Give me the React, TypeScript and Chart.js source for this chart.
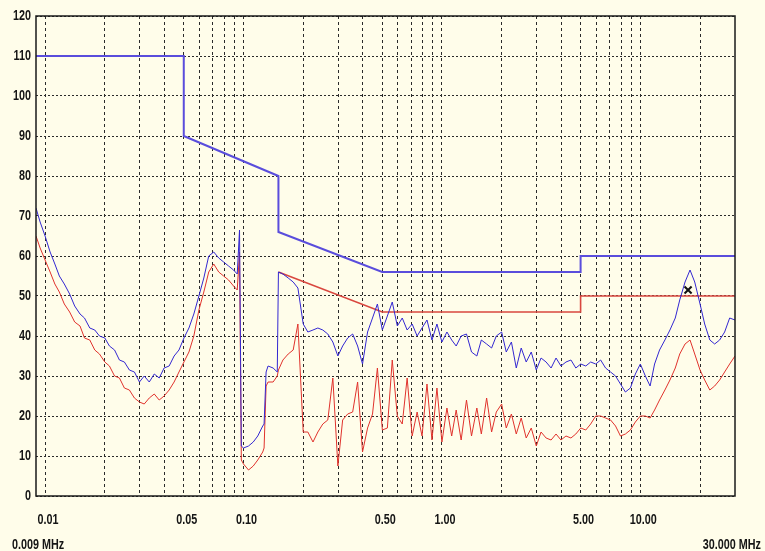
import React, { useEffect, useRef } from "react";
import { Chart, registerables } from "chart.js";

Chart.register(...registerables);

// Frequency points of the measured traces (MHz)
const FREQ_MHZ = [
  0.009, 0.00944,
  0.0100, 0.0106, 0.0112, 0.0118, 0.0125, 0.0133, 0.0141, 0.0150, 0.0158, 0.0168,
  0.0178, 0.0188, 0.0200, 0.0211, 0.0224, 0.0237, 0.0251, 0.0266, 0.0282, 0.0299,
  0.0316, 0.0335, 0.0355, 0.0376, 0.0398, 0.0422, 0.0447, 0.0473, 0.0501, 0.0531,
  0.0562, 0.0596, 0.0631, 0.0668, 0.0708, 0.0750, 0.0794, 0.0841, 0.0891, 0.0930, 0.0955, 0.0975,
  0.100, 0.106, 0.112, 0.118, 0.125, 0.127, 0.130, 0.133, 0.141, 0.148, 0.150, 0.158, 0.168,
  0.178, 0.188, 0.200, 0.211, 0.224, 0.237, 0.251, 0.266, 0.282, 0.299,
  0.316, 0.335, 0.355, 0.376, 0.398, 0.422, 0.447, 0.473, 0.501, 0.531,
  0.562, 0.596, 0.631, 0.668, 0.708, 0.750, 0.794, 0.841, 0.891, 0.944,
  1.00, 1.06, 1.12, 1.18, 1.25, 1.33, 1.41, 1.50, 1.58, 1.68,
  1.78, 1.88, 2.00, 2.11, 2.24, 2.37, 2.51, 2.66, 2.82, 2.99,
  3.16, 3.35, 3.55, 3.76, 3.98, 4.22, 4.47, 4.73, 5.01, 5.31,
  5.62, 5.96, 6.31, 6.68, 7.08, 7.50, 7.94, 8.41, 8.91, 9.44,
  10.0, 10.6, 11.2, 11.8, 12.5, 13.3, 14.1, 15.0, 15.8, 16.8,
  17.8, 18.8, 20.0, 21.1, 22.4, 23.7, 25.1, 26.6, 28.2, 30.0,
];

// Blue (peak) trace, dBµV
const TRACE_BLUE = [
  72, 68.5,
  65, 61, 58, 55, 53, 50.5, 47.5, 45.5, 44.5, 42,
  41.5, 40, 39.5, 37.5, 36.5, 34, 33.5, 31.5, 31, 28.5,
  30, 28.5, 30.5, 29.5, 32, 32.5, 35, 36.5, 39.5, 42,
  45.5, 50, 54.5, 60, 61, 59.5, 58.5, 57.5, 56.5, 55.5, 66.5, 12.5,
  12, 12.5, 13.5, 15, 17.5, 18, 31, 32.5, 32, 31, 56, 55.5, 54.5,
  53.5, 52, 43, 41, 41.5, 42, 41.5, 40.5, 38.5, 35,
  37.5, 39.5, 40.5, 37.5, 33, 41, 44.5, 48, 41.5, 45,
  48.5, 42.5, 44.5, 41.5, 43, 40, 42, 44, 39, 43,
  38.5, 41, 39, 37.5, 40, 40.5, 36, 35, 39, 38,
  37, 40, 41, 36, 38.5, 32, 37, 33.5, 36, 31.5,
  34.5, 33.5, 32, 34.5, 32.5, 33.5, 34, 32, 33, 32.5,
  33.5, 33, 34, 32, 31, 30, 28, 26, 27, 30.5,
  33, 30, 27.5, 33, 36.5, 39, 41.5, 44.5, 49, 53.5,
  56.5, 53.5, 48, 43, 39, 38, 39, 41, 44.5, 44,
];

// Red (average) trace, dBµV
const TRACE_RED = [
  65, 62,
  59, 56, 53, 51, 48, 46, 43.5, 42.5, 39.5, 39,
  36.5, 35.5, 33.5, 32.5, 30, 29.5, 27, 26.5, 24.5, 23.5,
  23, 24.5, 25.5, 24, 25, 26.5, 28.5, 31, 33.5, 36,
  40, 46.5, 51, 56, 58, 56, 55, 54, 52.5, 51.5, 61, 9,
  8, 6.5, 7.5, 9, 11, 12, 27.5, 28.5, 28.5, 30, 31.5, 34, 35.5,
  36.5, 43, 16, 16, 13.5, 16, 18, 19, 29.5, 7.5,
  19, 20.5, 21, 28.5, 11, 17, 20.5, 32, 16.5, 17,
  34, 20, 18, 29.5, 15, 21, 15, 28, 14, 27,
  13.5, 22, 15, 21.5, 14, 24, 15, 22, 15.5, 24.5,
  16, 21, 23, 17, 20.5, 15.5, 19.5, 14.5, 17, 12.5,
  16, 14.5, 14, 15.5, 14, 15, 14.5, 15.5, 17, 16.5,
  18, 20, 20, 19.5, 19, 17.5, 15, 15.5, 16.5, 18.5,
  20, 20, 19.5, 21.5, 24, 26.5, 29, 32, 35.5, 38,
  39, 35.5, 31.5, 29, 26.5, 27.5, 29, 31, 33, 35,
];

// Limit lines
const LIMIT_BLUE_F = [0.009, 0.05, 0.05, 0.15, 0.15, 0.5, 5, 5, 30];
const LIMIT_BLUE_DB = [110, 110, 90, 80, 66, 56, 56, 60, 60];
const LIMIT_RED_F = [0.15, 0.5, 5, 5, 30];
const LIMIT_RED_DB = [56, 46, 46, 50, 50];

// Marker
const MARKER_F = [17.4];
const MARKER_DB = [51.5];

// Axes
const X_MIN = 0.009;
const X_MAX = 30;
const X_GRID = [
  0.01, 0.02, 0.03, 0.04, 0.05, 0.06, 0.07, 0.08, 0.09,
  0.1, 0.2, 0.3, 0.4, 0.5, 0.6, 0.7, 0.8, 0.9,
  1, 2, 3, 4, 5, 6, 7, 8, 9,
  10, 20,
];
const X_LABEL_VALUES = [0.01, 0.05, 0.1, 0.5, 1, 5, 10];
const X_LABEL_TEXT = ["0.01", "0.05", "0.10", "0.50", "1.00", "5.00", "10.00"];
const X_START_TEXT = "0.009 MHz";
const X_END_TEXT = "30.000 MHz";
const Y_MIN = 0;
const Y_MAX = 120;
const Y_STEP = 10;
const Y_LABELS = ["0", "10", "20", "30", "40", "50", "60", "70", "80", "90", "100", "110", "120"];

const FONT = "bold 15px 'Liberation Sans', Arial, sans-serif";
const NARROW = 0.72;
const BG = "#fffdea";

const pts = (xs: number[], ys: number[]) => xs.map((x, i) => ({ x, y: ys[i] }));

function narrowText(ctx: CanvasRenderingContext2D, text: string, x: number, y: number, align: CanvasTextAlign) {
  ctx.save();
  ctx.translate(x, y);
  ctx.scale(NARROW, 1);
  ctx.textAlign = align;
  ctx.fillText(text, 0, 0);
  ctx.restore();
}

const framePlugin = {
  id: "frame",
  afterDraw(chart: any) {
    const { ctx, chartArea } = chart;
    const xs = chart.scales.x;
    const ys = chart.scales.y;
    ctx.save();
    ctx.strokeStyle = "#1a1a1a";
    ctx.lineWidth = 1.5;
    ctx.strokeRect(chartArea.left, chartArea.top, chartArea.right - chartArea.left, chartArea.bottom - chartArea.top);
    ctx.fillStyle = "#151515";
    ctx.font = FONT;
    ctx.textBaseline = "middle";
    X_LABEL_VALUES.forEach((v, i) => {
      narrowText(ctx, X_LABEL_TEXT[i], xs.getPixelForValue(v) + 3, 520, "center");
    });
    Y_LABELS.forEach((t, i) => {
      narrowText(ctx, t, 31, ys.getPixelForValue(Y_MIN + i * Y_STEP), "right");
    });
    ctx.textBaseline = "alphabetic";
    narrowText(ctx, X_START_TEXT, 12, 549, "left");
    narrowText(ctx, X_END_TEXT, 761, 549, "right");
    ctx.restore();
  },
};

export default function App() {
  const ref = useRef<HTMLCanvasElement | null>(null);

  useEffect(() => {
    if (!ref.current) return;
    const chart = new Chart(ref.current, {
      type: "line",
      data: {
        datasets: [
          {
            type: "scatter",
            data: pts(MARKER_F, MARKER_DB),
            pointStyle: "crossRot",
            pointRadius: 5,
            borderColor: "#111",
            backgroundColor: "#111",
            borderWidth: 2,
            showLine: false,
          } as any,
          {
            data: pts(FREQ_MHZ, TRACE_BLUE),
            borderColor: "#3327d1",
            borderWidth: 1,
            pointRadius: 0,
            tension: 0,
          },
          {
            data: pts(FREQ_MHZ, TRACE_RED),
            borderColor: "#e0322c",
            borderWidth: 1,
            pointRadius: 0,
            tension: 0,
          },
          {
            data: pts(LIMIT_BLUE_F, LIMIT_BLUE_DB),
            borderColor: "#5a4ddc",
            borderWidth: 2,
            pointRadius: 0,
            tension: 0,
          },
          {
            data: pts(LIMIT_RED_F, LIMIT_RED_DB),
            borderColor: "#d9473f",
            borderWidth: 1.6,
            pointRadius: 0,
            tension: 0,
          },
        ],
      },
      options: {
        animation: false,
        responsive: false,
        maintainAspectRatio: false,
        layout: { padding: { top: 16, right: 30, left: 0, bottom: 0 } },
        plugins: { legend: { display: false }, tooltip: { enabled: false } },
        scales: {
          x: {
            type: "logarithmic",
            min: X_MIN,
            max: X_MAX,
            afterBuildTicks: (scale: any) => {
              scale.ticks = X_GRID.map((v) => ({ value: v }));
            },
            afterFit: (scale: any) => {
              scale.height = 55;
            },
            ticks: { display: false },
            grid: { color: "#2a2a2a", lineWidth: 1, drawTicks: false },
            border: { display: false, dash: [3, 3] },
          },
          y: {
            type: "linear",
            min: Y_MIN,
            max: Y_MAX,
            afterFit: (scale: any) => {
              scale.width = 36;
            },
            ticks: { stepSize: Y_STEP, display: false },
            grid: { color: "#2a2a2a", lineWidth: 1, drawTicks: false },
            border: { display: false, dash: [2, 2] },
          },
        },
      },
      plugins: [framePlugin],
    });
    return () => chart.destroy();
  }, []);

  return (
    <div style={{ position: "fixed", left: 0, top: 0, width: 765, height: 551, background: BG }}>
      <canvas ref={ref} width={765} height={551} style={{ display: "block", width: 765, height: 551 }} />
    </div>
  );
}
